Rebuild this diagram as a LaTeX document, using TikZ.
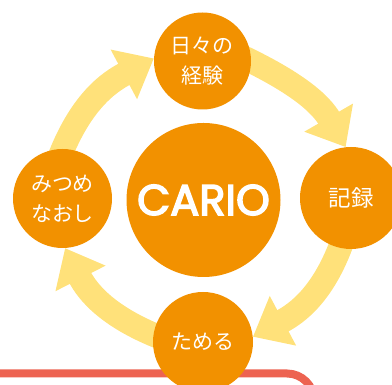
\documentclass[tikz,border=0pt]{standalone}
\usepackage{fontspec}
\newfontfamily\jpfont{Noto Sans CJK JP}
\newfontfamily\cariofont{Poppins}[FakeBold=3.5]
\usetikzlibrary{arrows.meta,backgrounds}
\definecolor{cycorange}{RGB}{242,145,0}
\definecolor{cycyellow}{RGB}{255,225,122}
\definecolor{framered}{RGB}{237,99,81}
\begin{document}
\begin{tikzpicture}[x=1pt,y=1pt,
    stage/.style={circle,fill=cycorange,text=white,inner sep=0pt,align=center,
      font=\jpfont\fontsize{21pt}{30pt}\selectfont},
    cyclearrow/.style={draw=cycyellow,line width=24pt,shorten <=-16pt,
      -{Triangle[length=34pt,width=54pt]}}]
    \useasboundingbox (0,0) rectangle (392,385);
    \node[stage,minimum size=154pt,font=\cariofont\fontsize{43pt}{43pt}\selectfont] (cario) at (203.5,185) {CARIO};
    \node[stage,minimum size=97pt] (exper) at (202.5,324) {日々の\\経験};
    \node[stage,minimum size=102pt,font=\jpfont\fontsize{22.5pt}{30pt}\selectfont] (record) at (351,187) {記録};
    \node[stage,minimum size=100pt] (store) at (203,43) {ためる};
    \node[stage,minimum size=99pt] (review) at (62.5,186.5) {みつめ\\なおし};
    \begin{scope}[on background layer]
    \draw[framered,line width=8pt,rounded corners=27pt] (-10,11.5) -| (314,-30);
    \draw[cyclearrow] (review.north) to[out=70,in=208] (exper.177);
    \draw[cyclearrow] (exper.east) to[out=-25,in=120] (record.96);
    \draw[cyclearrow] (record.258) to[out=-108,in=28] (store.6);
    \draw[cyclearrow] (store.172) to[out=160,in=297] (review.273);
    \end{scope}
\end{tikzpicture}
\end{document}
